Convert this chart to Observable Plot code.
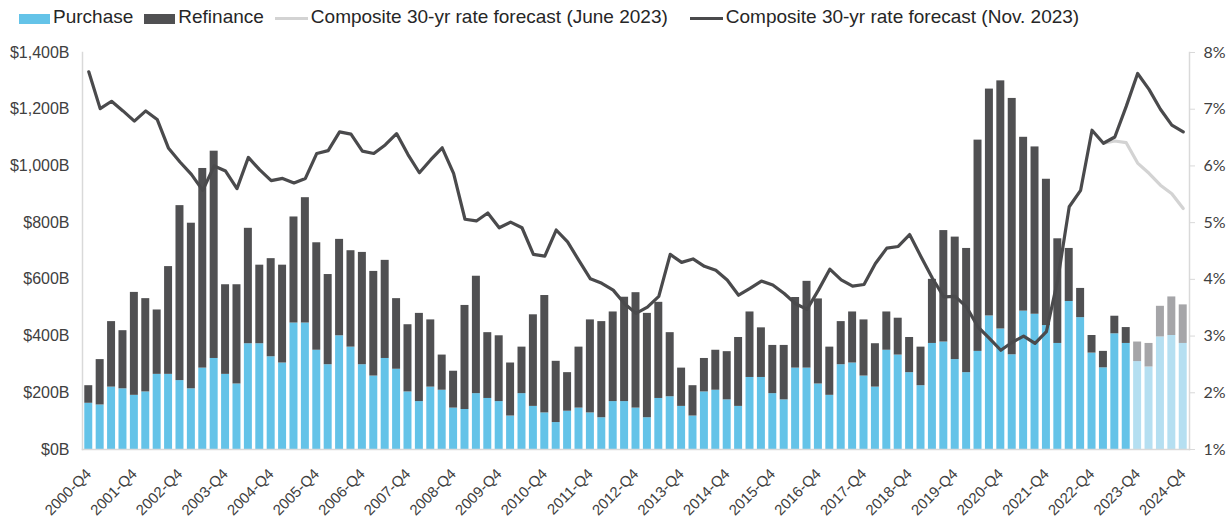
<!DOCTYPE html>
<html>
<head>
<meta charset="utf-8">
<script src="https://cdn.jsdelivr.net/npm/d3@7"></script>
<script src="https://cdn.jsdelivr.net/npm/@observablehq/plot@0.6"></script>
<style>
  html, body { margin: 0; padding: 0; background: #fff; }
  body { width: 1228px; height: 517px; overflow: hidden; font-family: "Liberation Sans", Arial, sans-serif; }
  #legend { height: 34px; display: flex; align-items: center; padding-left: 19px; font-size: 19px; color: #262626; }
  #legend .item { display: flex; align-items: center; margin-right: 11px; }
  #legend .swatch { display: inline-block; margin-right: 3px; }
  #legend .box { width: 31px; height: 10px; margin-top: 3px; }
  #legend .ln { width: 33px; height: 3px; margin-top: 2px; }
  #chart svg { display: block; }
</style>
</head>
<body>
<div id="legend"></div>
<div id="chart"></div>
<script>
// Quarterly mortgage originations ($B) and the composite 30-yr rate (%)
const quarters = [
  "2000-Q4",
  "2001-Q1","2001-Q2","2001-Q3","2001-Q4",
  "2002-Q1","2002-Q2","2002-Q3","2002-Q4",
  "2003-Q1","2003-Q2","2003-Q3","2003-Q4",
  "2004-Q1","2004-Q2","2004-Q3","2004-Q4",
  "2005-Q1","2005-Q2","2005-Q3","2005-Q4",
  "2006-Q1","2006-Q2","2006-Q3","2006-Q4",
  "2007-Q1","2007-Q2","2007-Q3","2007-Q4",
  "2008-Q1","2008-Q2","2008-Q3","2008-Q4",
  "2009-Q1","2009-Q2","2009-Q3","2009-Q4",
  "2010-Q1","2010-Q2","2010-Q3","2010-Q4",
  "2011-Q1","2011-Q2","2011-Q3","2011-Q4",
  "2012-Q1","2012-Q2","2012-Q3","2012-Q4",
  "2013-Q1","2013-Q2","2013-Q3","2013-Q4",
  "2014-Q1","2014-Q2","2014-Q3","2014-Q4",
  "2015-Q1","2015-Q2","2015-Q3","2015-Q4",
  "2016-Q1","2016-Q2","2016-Q3","2016-Q4",
  "2017-Q1","2017-Q2","2017-Q3","2017-Q4",
  "2018-Q1","2018-Q2","2018-Q3","2018-Q4",
  "2019-Q1","2019-Q2","2019-Q3","2019-Q4",
  "2020-Q1","2020-Q2","2020-Q3","2020-Q4",
  "2021-Q1","2021-Q2","2021-Q3","2021-Q4",
  "2022-Q1","2022-Q2","2022-Q3","2022-Q4",
  "2023-Q1","2023-Q2","2023-Q3","2023-Q4",
  "2024-Q1","2024-Q2","2024-Q3","2024-Q4"
];

// Purchase originations, $B
const purchase = [
  163,
  157, 220, 214, 191,
  203, 265, 265, 243,
  214, 287, 321, 265,
  231, 373, 373, 327,
  305, 446, 446, 350,
  299, 401, 361, 299,
  259, 321, 283, 203,
  169, 220, 209, 146,
  141, 197, 180, 169,
  118, 197, 152, 129,
  95, 135, 146, 129,
  112, 169, 169, 146,
  112, 180, 186, 152,
  118, 203, 209, 175,
  152, 254, 254, 197,
  175, 287, 287, 231,
  191, 299, 305, 259,
  220, 350, 333, 271,
  225, 374, 379, 317,
  271, 346, 471, 425,
  334, 488, 477, 437,
  374, 522, 465, 340,
  288, 408, 374, 310,
  291, 397, 402, 374
];

// Refinance originations, $B
const refinance = [
  62,
  160, 231, 205, 363,
  329, 227, 380, 617,
  584, 704, 731, 316,
  350, 407, 277, 346,
  345, 374, 442, 379,
  318, 340, 340, 396,
  369, 346, 249, 237,
  311, 237, 124, 130,
  367, 414, 232, 232,
  187, 164, 323, 414,
  216, 136, 215, 328,
  339, 316, 368, 407,
  368, 339, 226, 135,
  107, 118, 141, 170,
  243, 231, 175, 170,
  192, 249, 306, 300,
  170, 152, 180, 198,
  153, 135, 130, 124,
  136, 226, 393, 432,
  438, 745, 800, 875,
  904, 613, 590, 516,
  369, 187, 103, 62,
  58, 62, 56, 69,
  83, 108, 136, 136
];

// Composite 30-yr rate, history plus Nov. 2023 forecast, %
const rateNov2023 = [
  7.66,
  7.01, 7.14, 6.97, 6.79,
  6.97, 6.82, 6.31, 6.07,
  5.85, 5.57, 6.00, 5.91,
  5.60, 6.15, 5.93, 5.74,
  5.78, 5.70, 5.78, 6.22,
  6.27, 6.60, 6.56, 6.26,
  6.22, 6.37, 6.57, 6.20,
  5.88, 6.11, 6.32, 5.87,
  5.06, 5.03, 5.17, 4.91,
  5.01, 4.91, 4.44, 4.41,
  4.87, 4.66, 4.33, 4.01,
  3.93, 3.81, 3.57, 3.40,
  3.51, 3.70, 4.44, 4.30,
  4.36, 4.23, 4.16, 3.99,
  3.72, 3.84, 3.97, 3.90,
  3.75, 3.57, 3.47, 3.81,
  4.18, 3.99, 3.88, 3.91,
  4.28, 4.55, 4.58, 4.79,
  4.40, 4.02, 3.69, 3.70,
  3.51, 3.16, 2.96, 2.75,
  2.89, 3.00, 2.87, 3.08,
  4.00, 5.28, 5.57, 6.63,
  6.40, 6.51, 7.05, 7.63,
  7.35, 7.00, 6.72, 6.60
];

// Composite 30-yr rate, June 2023 forecast, %
const juneQuarters = ["2023-Q1","2023-Q2","2023-Q3","2023-Q4","2024-Q1","2024-Q2","2024-Q3","2024-Q4"];
const rateJune2023 = [6.40, 6.44, 6.41, 6.05, 5.87, 5.66, 5.51, 5.25];

const firstForecast = "2023-Q4";
const volumeTicks = [0, 200, 400, 600, 800, 1000, 1200, 1400];
const rateTicks = [1, 2, 3, 4, 5, 6, 7, 8];
const quarterTicks = quarters.filter(q => q.endsWith("Q4"));

const colors = {
  purchase: "#64c3e8", purchaseForecast: "#b5dff1",
  refinance: "#505052", refinanceForecast: "#a5a5a8",
  rateNov: "#4a4a4c", rateJune: "#d3d3d3", axis: "#d9d9d9"
};

// Rates share the volume axis: 1% sits at $0B, 8% at $1,400B
const rateToVolume = r => (r - 1) * 200;

const forecastIndex = quarters.indexOf(firstForecast);
const bars = [
  ...quarters.map((q, i) => ({q, type: "Purchase", v: purchase[i],
    fill: i >= forecastIndex ? colors.purchaseForecast : colors.purchase})),
  ...quarters.map((q, i) => ({q, type: "Refinance", v: refinance[i],
    fill: i >= forecastIndex ? colors.refinanceForecast : colors.refinance}))
];
const novLine = quarters.map((q, i) => ({q, r: rateNov2023[i]}));
const juneLine = juneQuarters.map((q, i) => ({q, r: rateJune2023[i]}));

// Legend
const legendItems = [
  {label: "Purchase", kind: "box", color: colors.purchase},
  {label: "Refinance", kind: "box", color: colors.refinance},
  {label: "Composite 30-yr rate forecast (June 2023)", kind: "ln", color: colors.rateJune},
  {label: "Composite 30-yr rate forecast (Nov. 2023)", kind: "ln", color: colors.rateNov}
];
const legend = d3.select("#legend");
legendItems.forEach((d, i) => {
  const item = legend.append("div").attr("class", "item")
    .style("margin-right", i === 2 ? "22px" : "11px");
  item.append("span").attr("class", "swatch " + d.kind).style("background", d.color);
  item.append("span").text(d.label);
});

const chart = Plot.plot({
  width: 1228,
  height: 483,
  marginTop: 18,
  marginBottom: 68,
  marginLeft: 82,
  marginRight: 39,
  style: {fontFamily: "'Liberation Sans', Arial, sans-serif", fontSize: "16px", color: "#404040", background: "#fff"},
  x: {type: "band", domain: quarters, paddingInner: 0.3, paddingOuter: 0.2, axis: null},
  y: {domain: [0, 1400], axis: null},
  color: {type: "identity"},
  marks: [
    Plot.barY(bars, {x: "q", y: "v", z: "type", fill: "fill"}),
    Plot.line(juneLine, {x: "q", y: d => rateToVolume(d.r), stroke: colors.rateJune, strokeWidth: 3.2}),
    Plot.line(novLine, {x: "q", y: d => rateToVolume(d.r), stroke: colors.rateNov, strokeWidth: 3.2}),
    Plot.frame({anchor: "left", stroke: colors.axis, strokeWidth: 1.5}),
    Plot.frame({anchor: "right", stroke: colors.axis, strokeWidth: 1.5}),
    Plot.frame({anchor: "bottom", stroke: colors.axis, strokeWidth: 1.5}),
    Plot.axisY(volumeTicks, {
      anchor: "left", label: null, tickSize: 0, tickPadding: 13,
      tickFormat: d => "$" + d3.format(",")(d) + "B", fontSize: 16
    }),
    Plot.axisY(rateTicks.map(rateToVolume), {
      anchor: "right", label: null, tickSize: 5, tickPadding: 9, stroke: colors.axis,
      tickFormat: v => (v / 200 + 1) + "%", fontSize: 16, fontFamily: "Lato, sans-serif"
    }),
    Plot.axisX(quarterTicks, {
      anchor: "bottom", label: null, tickSize: 0, tickPadding: 22, tickRotate: -45, fontSize: 15
    })
  ]
});
document.getElementById("chart").append(chart);
</script>
</body>
</html>
